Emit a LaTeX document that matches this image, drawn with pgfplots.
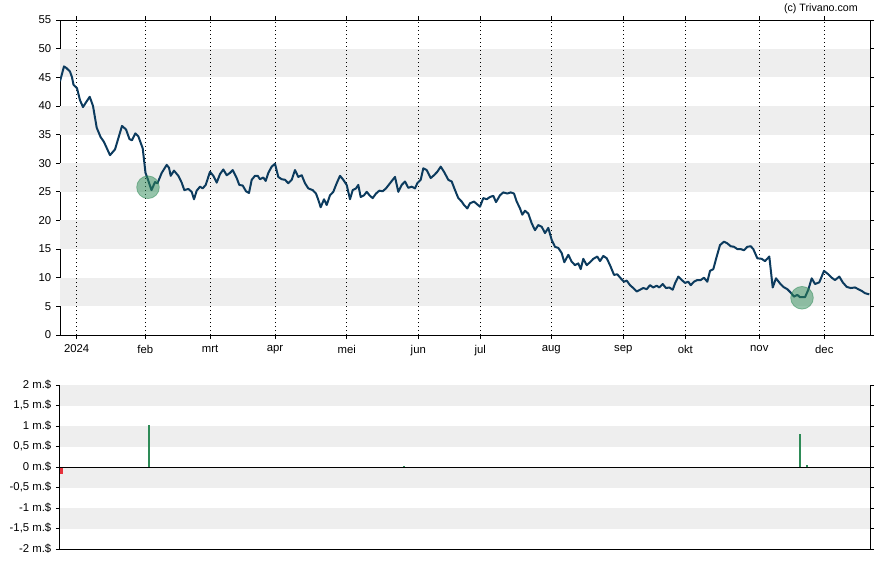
\documentclass[border=0pt]{standalone}
\usepackage{pgfplots}
\pgfplotsset{compat=1.18}
\usepackage{fontspec}
\setmainfont{Liberation Sans}
\definecolor{bandgray}{RGB}{238,238,238}
\definecolor{linecol}{RGB}{12,59,94}
\definecolor{mkgreen}{RGB}{46,139,87}
\definecolor{barred}{RGB}{230,50,60}
\begin{document}
\begin{tikzpicture}
\useasboundingbox (0pt,0pt) rectangle (666pt,423.75pt);
\node[anchor=east, font=\fontsize{8}{10}\selectfont, inner sep=0pt] at (643.5pt,417pt) {(c) Trivano.com};
\begin{axis}[
  at={(45pt,172.5pt)}, anchor=south west,
  width=607.5pt, height=236.25pt, scale only axis,
  xmin=60, xmax=870, ymin=0, ymax=55,
  ytick={0,5,...,55},
  xtick={76.7,145.3,210,275,346.7,418.3,480.3,551.3,623.3,685.3,759.3,824.3},
  xticklabels={2024,feb,mrt,apr,mei,jun,jul,aug,sep,okt,nov,dec},
  tick align=outside, tick style={black, line width=0.6pt}, major tick length=3pt,
  axis line style={black, line width=0.75pt},
  ticklabel style={font=\fontsize{8.5}{10}\selectfont},
  /pgf/number format/assume math mode=true,
  xticklabel style={yshift=-1pt},
]
\fill[bandgray] (axis cs:60,5) rectangle (axis cs:870,10);
\fill[bandgray] (axis cs:60,15) rectangle (axis cs:870,20);
\fill[bandgray] (axis cs:60,25) rectangle (axis cs:870,30);
\fill[bandgray] (axis cs:60,35) rectangle (axis cs:870,40);
\fill[bandgray] (axis cs:60,45) rectangle (axis cs:870,50);
\foreach \gx in {76.7,145.3,210,275,346.7,418.3,480.3,551.3,623.3,685.3,759.3,824.3} {
  \edef\tmp{\noexpand\draw[black, line width=0.7pt, dash pattern=on 0.75pt off 2.25pt] (axis cs:\gx,0) -- (axis cs:\gx,55);}
  \tmp
}
\addplot[linecol, line width=1.5pt, line join=round] table {
60 44.3
64 46.9
66.5 46.6
70 46.0
72 45.0
73.5 43.7
77 43.1
80 41.0
83 39.8
86.3 40.7
89.7 41.6
93 40.0
96.7 36.2
100.5 34.6
104 33.7
110 31.4
115 32.4
122 36.5
126 35.9
129.5 34.2
132 34.0
135.3 35.2
138.3 34.7
142.7 32.6
145.5 28.3
148 27.1
151.5 25.3
155 26.7
157.5 26.5
161.7 28.3
166.7 29.7
169 29.2
170.7 27.8
174 28.7
178.3 27.8
181.7 26.6
184.3 25.3
188.3 25.5
191.7 25.0
194 23.7
196.7 25.2
200 25.9
202.7 25.6
205.7 26.2
210 28.5
213.3 27.8
216.7 26.6
220 28.1
223.3 28.9
226.7 27.9
230 28.3
232.7 28.8
236.7 27.4
239.3 26.2
242.7 26.1
246 25.1
249 24.8
251.7 27.1
255 27.8
257.7 27.8
260 27.2
263.3 27.5
265.7 26.9
268.3 28.3
271.7 29.4
275 29.9
278.3 27.6
281.7 27.2
285 27.1
288.3 26.5
291.7 27.1
295 28.8
298.3 27.6
301.7 27.9
305 26.5
308.3 25.6
312.7 25.3
316 24.7
318.3 23.6
320.7 22.3
324 23.7
326.7 22.7
330 24.4
333.3 25.0
336.7 26.5
340 27.8
343.3 27.1
346.7 26.2
350 23.7
352.7 25.3
356 25.6
358.3 26.2
360.7 24.1
364 24.4
366.7 25.0
370 24.3
372.7 23.9
376 24.7
379.3 25.2
382.7 25.1
386 25.6
390 26.5
395 27.6
398.3 25.0
401.7 26.2
405 26.8
408.3 25.7
411.7 25.9
415 25.6
417.3 26.5
420.7 27.1
423.3 29.1
426.7 28.8
430.7 27.4
434 27.9
437.3 28.5
440.7 29.4
444 28.5
448.3 27.1
451.7 26.8
455 25.3
458.3 23.9
461.7 23.3
464 22.7
467.3 22.1
470 23.0
474 23.3
477.3 22.8
480 22.4
483.3 23.9
486.7 23.7
490 24.1
493.3 24.3
496 23.2
500 24.4
503.3 24.9
507.3 24.7
510.7 24.9
514 24.7
516.7 23.3
520 22.1
522.3 21.0
525 21.7
528.3 21.2
531.7 19.5
535 18.3
538.3 19.2
541.7 18.9
545 17.8
548.3 18.7
551.7 16.6
555 15.4
558.3 15.2
561.7 14.3
564.3 12.7
568.3 14.0
571.7 12.8
575 12.2
578.3 12.5
580.7 11.5
583.3 13.3
586.7 12.2
590 12.7
593.3 13.3
597.3 13.7
600 12.9
603.3 13.8
606.7 13.4
610 12.2
614 10.5
617.3 10.6
620.7 9.9
624 9.3
626.7 9.5
630 8.7
633.3 8.2
636.7 7.6
640 7.9
643.3 8.2
646.7 8.0
650 8.7
653.3 8.3
656.7 8.6
659.3 8.3
662.7 8.9
666 8.2
669.3 8.3
672.7 7.9
675 9.0
678.3 10.2
681.7 9.6
685 9.1
688.3 9.3
690.7 8.7
694 9.3
697.3 9.6
700.7 9.6
704 10.0
707.3 9.3
710 11.2
713.3 11.5
716.7 13.7
720 15.7
724 16.3
727.3 16.0
730.7 15.5
734 15.4
737.3 15.0
740.7 15.0
744 14.8
747.3 15.4
750.7 15.5
753.3 15.0
757.3 13.4
761.7 13.3
765 12.9
769.3 13.7
772.7 8.3
776 9.9
780 9.0
783.3 8.4
787.3 8.0
790.7 7.4
794 6.7
797.3 7.0
800 6.6
805 6.6
808.3 7.9
811.7 9.9
815 8.9
819.3 9.2
824 11.2
828.3 10.6
831.7 10.0
835 9.6
839.3 10.2
842.7 9.2
846.7 8.4
850.7 8.2
855 8.3
858.3 8.0
861.7 7.7
865 7.3
869.3 7.1
};
\addplot[only marks, mark=*, mark size=8.5pt, mark options={fill=mkgreen, fill opacity=0.5, draw=mkgreen, draw opacity=0.5, line width=0.6pt}] coordinates {(148,25.8) (802,6.5)};
\end{axis}
\begin{axis}[
  at={(45pt,12pt)}, anchor=south west,
  width=607.5pt, height=123pt, scale only axis,
  xmin=60, xmax=870, ymin=-2, ymax=2,
  ytick={-2,-1.5,-1,-0.5,0,0.5,1,1.5,2},
  yticklabels={{-2 m.\$},{-1,5 m.\$},{-1 m.\$},{-0,5 m.\$},{0 m.\$},{0,5 m.\$},{1 m.\$},{1,5 m.\$},{2 m.\$}},
  xtick={60,870}, xticklabels={,},
  x tick style={draw=none},
  tick align=outside, tick style={black, line width=0.6pt}, major tick length=3pt,
  axis line style={black, line width=0.75pt},
  ticklabel style={font=\fontsize{8.5}{10}\selectfont},
]
\fill[bandgray] (axis cs:60,1.5) rectangle (axis cs:870,2);
\fill[bandgray] (axis cs:60,0.5) rectangle (axis cs:870,1);
\fill[bandgray] (axis cs:60,-0.5) rectangle (axis cs:870,0);
\fill[bandgray] (axis cs:60,-1.5) rectangle (axis cs:870,-1);
\addplot[ycomb, mkgreen, line width=1.5pt, mark=none] coordinates {(149,1.03) (404,0.03) (800,0.81) (807,0.04)};
\addplot[ycomb, barred, line width=1.5pt, mark=none] coordinates {(61.5,-0.16) (62,-0.16)};
\draw[black, line width=0.75pt] (axis cs:60,0) -- (axis cs:870,0);
\end{axis}
\end{tikzpicture}
\end{document}
